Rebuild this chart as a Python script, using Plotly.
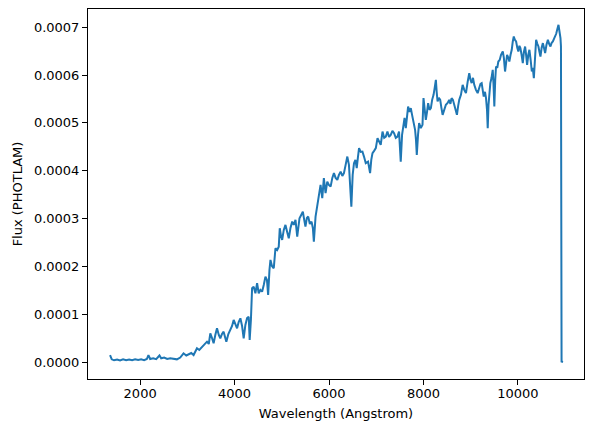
import plotly.graph_objects as go

# Spectrum (wavelength in Angstrom, flux in PHOTLAM)
wavelength = [
    1363, 1399, 1448, 1512, 1575, 1639, 1703, 1766, 1830, 1894,
    1958, 2021, 2085, 2142, 2176, 2212, 2276, 2340, 2410, 2446,
    2509, 2573, 2637, 2701, 2779, 2849, 2919, 2977, 3025, 3083,
    3132, 3204, 3253, 3310, 3359, 3416, 3454, 3486, 3522, 3556,
    3592, 3628, 3666, 3698, 3734, 3768, 3798, 3826, 3868, 3911,
    3947, 3981, 4017, 4053, 4087, 4123, 4159, 4193, 4229, 4265,
    4299, 4320, 4346, 4371, 4405, 4441, 4477, 4511, 4547, 4583,
    4618, 4654, 4686, 4711, 4739, 4760, 4792, 4830, 4866, 4902,
    4936, 4957, 4983, 5008, 5042, 5078, 5114, 5148, 5184, 5220,
    5254, 5290, 5327, 5354, 5375, 5411, 5446, 5475, 5501, 5531,
    5560, 5594, 5630, 5658, 5679, 5715, 5751, 5773, 5796, 5821,
    5857, 5891, 5927, 5963, 5997, 6034, 6070, 6104, 6140, 6176,
    6210, 6246, 6282, 6316, 6352, 6388, 6422, 6448, 6473, 6501,
    6529, 6559, 6587, 6611, 6636, 6672, 6708, 6742, 6778, 6827,
    6870, 6895, 6921, 6955, 6991, 7027, 7061, 7095, 7133, 7168,
    7203, 7237, 7271, 7307, 7343, 7378, 7414, 7450, 7483, 7502,
    7519, 7547, 7577, 7600, 7626, 7651, 7675, 7704, 7732, 7759,
    7789, 7823, 7842, 7859, 7885, 7908, 7944, 7980, 8001, 8025,
    8050, 8076, 8099, 8129, 8157, 8184, 8214, 8238, 8263, 8280,
    8299, 8327, 8355, 8380, 8406, 8440, 8475, 8512, 8545, 8571,
    8596, 8624, 8652, 8682, 8709, 8735, 8758, 8794, 8830, 8864,
    8900, 8936, 8970, 8996, 9021, 9049, 9076, 9112, 9148, 9182,
    9208, 9233, 9254, 9276, 9303, 9325, 9346, 9361, 9378, 9395,
    9416, 9442, 9467, 9484, 9501, 9520, 9537, 9563, 9586, 9616,
    9643, 9680, 9703, 9728, 9749, 9771, 9798, 9819, 9845, 9870,
    9891, 9913, 9936, 9962, 9987, 10010, 10032, 10053, 10078, 10104,
    10127, 10153, 10174, 10195, 10221, 10244, 10270, 10295, 10316, 10338,
    10361, 10386, 10412, 10435, 10456, 10478, 10503, 10529, 10552, 10577,
    10605, 10635, 10662, 10690, 10716, 10741, 10764, 10790, 10811, 10832,
    10860, 10875, 10890, 10902, 10912, 10925, 10955,
]

flux = [
    1.46e-5, 5.6e-6, 3.6e-6, 5.2e-6, 3.1e-6, 5.6e-6, 3.8e-6, 5.2e-6, 3.6e-6, 5.9e-6,
    4.2e-6, 5.6e-6, 3.8e-6, 6.3e-6, 1.46e-5, 6.3e-6, 7.9e-6, 5.9e-6, 1.36e-5, 7.9e-6,
    9.4e-6, 6.3e-6, 7.9e-6, 6.3e-6, 5.6e-6, 9.4e-6, 1.82e-5, 1.36e-5, 1.67e-5, 1.88e-5,
    1.46e-5, 2.87e-5, 2.51e-5, 3.20e-5, 3.56e-5, 4.25e-5, 3.77e-5, 6.00e-5, 5.02e-5, 3.91e-5,
    5.65e-5, 7.05e-5, 5.65e-5, 4.96e-5, 5.86e-5, 6.34e-5, 5.23e-5, 4.25e-5, 5.86e-5, 6.69e-5,
    7.53e-5, 8.79e-5, 7.74e-5, 7.05e-5, 8.37e-5, 9.14e-5, 7.53e-5, 4.96e-5, 7.74e-5, 9.21e-5,
    9.48e-5, 4.60e-5, 8.79e-5, 1.542e-4, 1.575e-4, 1.437e-4, 1.646e-4, 1.437e-4, 1.506e-4, 1.471e-4,
    1.611e-4, 1.785e-4, 1.715e-4, 1.402e-4, 1.925e-4, 2.134e-4, 2.008e-4, 1.960e-4, 2.379e-4, 2.343e-4,
    2.412e-4, 2.797e-4, 2.636e-4, 2.552e-4, 2.762e-4, 2.866e-4, 2.720e-4, 2.588e-4, 2.803e-4, 2.935e-4,
    2.866e-4, 2.971e-4, 2.621e-4, 2.929e-4, 3.006e-4, 3.075e-4, 3.144e-4, 2.971e-4, 2.831e-4, 3.013e-4,
    3.040e-4, 2.887e-4, 2.935e-4, 2.803e-4, 2.517e-4, 3.040e-4, 3.249e-4, 3.389e-4, 3.556e-4, 3.703e-4,
    3.425e-4, 3.843e-4, 3.529e-4, 3.772e-4, 3.703e-4, 3.667e-4, 3.849e-4, 3.948e-4, 3.849e-4, 3.808e-4,
    3.912e-4, 3.981e-4, 3.891e-4, 3.948e-4, 4.121e-4, 4.295e-4, 4.121e-4, 3.703e-4, 3.249e-4, 3.912e-4,
    4.157e-4, 4.226e-4, 4.052e-4, 4.268e-4, 4.471e-4, 4.393e-4, 4.400e-4, 4.289e-4, 4.157e-4, 4.190e-4,
    3.948e-4, 4.226e-4, 4.366e-4, 4.414e-4, 4.471e-4, 4.680e-4, 4.603e-4, 4.540e-4, 4.818e-4, 4.686e-4,
    4.713e-4, 4.818e-4, 4.707e-4, 4.749e-4, 4.833e-4, 4.784e-4, 4.686e-4, 4.713e-4, 4.818e-4, 4.540e-4,
    4.190e-4, 4.749e-4, 5.027e-4, 5.105e-4, 4.889e-4, 5.167e-4, 5.341e-4, 5.230e-4, 5.308e-4, 5.167e-4,
    4.994e-4, 4.854e-4, 4.644e-4, 4.331e-4, 4.749e-4, 4.994e-4, 4.889e-4, 4.958e-4, 5.517e-4, 5.272e-4,
    5.063e-4, 5.230e-4, 5.412e-4, 5.272e-4, 5.308e-4, 5.481e-4, 5.586e-4, 5.732e-4, 5.900e-4, 5.649e-4,
    5.446e-4, 5.523e-4, 5.481e-4, 5.314e-4, 5.167e-4, 5.272e-4, 5.377e-4, 5.418e-4, 5.481e-4, 5.397e-4,
    5.517e-4, 5.481e-4, 5.377e-4, 5.272e-4, 5.167e-4, 5.356e-4, 5.481e-4, 5.586e-4, 5.795e-4, 5.690e-4,
    5.621e-4, 5.858e-4, 6.040e-4, 5.900e-4, 5.831e-4, 5.941e-4, 5.795e-4, 5.690e-4, 5.621e-4, 5.732e-4,
    5.816e-4, 5.831e-4, 5.690e-4, 5.550e-4, 5.649e-4, 5.517e-4, 5.272e-4, 4.889e-4, 5.377e-4, 5.690e-4,
    5.831e-4, 5.941e-4, 6.109e-4, 5.795e-4, 5.341e-4, 5.900e-4, 6.178e-4, 6.151e-4, 6.282e-4, 6.318e-4,
    6.423e-4, 6.492e-4, 6.360e-4, 6.073e-4, 6.276e-4, 6.423e-4, 6.360e-4, 6.282e-4, 6.423e-4, 6.527e-4,
    6.695e-4, 6.805e-4, 6.736e-4, 6.701e-4, 6.569e-4, 6.492e-4, 6.611e-4, 6.562e-4, 6.423e-4, 6.249e-4,
    6.485e-4, 6.596e-4, 6.423e-4, 6.213e-4, 6.423e-4, 6.527e-4, 6.318e-4, 6.073e-4, 6.151e-4, 5.935e-4,
    6.318e-4, 6.736e-4, 6.653e-4, 6.596e-4, 6.485e-4, 6.387e-4, 6.569e-4, 6.667e-4, 6.569e-4, 6.458e-4,
    6.632e-4, 6.736e-4, 6.653e-4, 6.596e-4, 6.674e-4, 6.701e-4, 6.757e-4, 6.805e-4, 6.862e-4, 6.946e-4,
    7.050e-4, 6.946e-4, 6.876e-4, 6.772e-4, 6.600e-4, 1.0e-6, 0.0,
]

fig = go.Figure(
    go.Scatter(
        x=wavelength,
        y=flux,
        mode="lines",
        line=dict(color="#1f77b4", width=2),
        hoverinfo="skip",
    )
)

_axis_common = dict(
    showline=True,
    linecolor="black",
    linewidth=1,
    mirror=True,
    showgrid=False,
    zeroline=False,
    ticks="outside",
    ticklen=5,
    tickwidth=1,
    tickcolor="black",
    tickfont=dict(size=13, color="black"),
)

fig.update_layout(
    width=593,
    height=432,
    paper_bgcolor="white",
    plot_bgcolor="white",
    font=dict(family="DejaVu Sans", size=13, color="black"),
    margin=dict(l=88, r=9, t=9, b=53),
    showlegend=False,
    xaxis=dict(
        **_axis_common,
        range=[896, 11400],
        tickvals=[2000, 4000, 6000, 8000, 10000],
        tickformat="d",
        ticklabelstandoff=-3,
        title=dict(text="Wavelength (Angstrom)", font=dict(size=13), standoff=9),
    ),
    yaxis=dict(
        **_axis_common,
        range=[-0.0000355, 0.000738],
        dtick=0.0001,
        tick0=0,
        tickformat=".4f",
        title=dict(text="Flux (PHOTLAM)", font=dict(size=13), standoff=8),
    ),
)

# page body has a default 8px margin; drop it so the figure sits at the window origin
fig.write_html(
    "out.html",
    config={"displayModeBar": False},
    post_script="document.body.style.margin = '0';",
)
